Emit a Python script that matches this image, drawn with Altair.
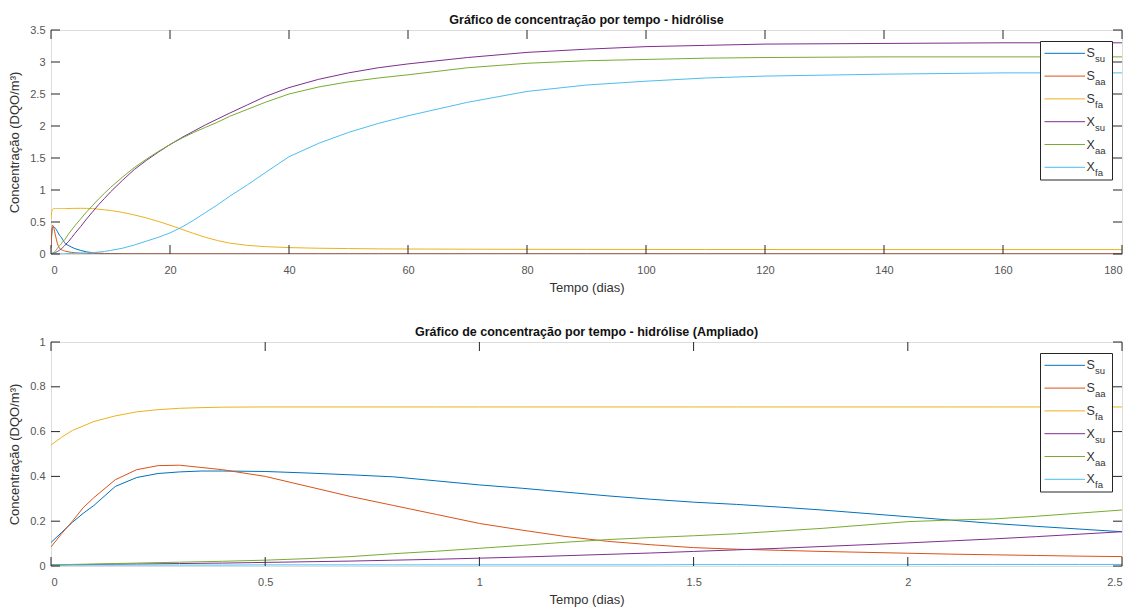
import altair as alt
import pandas as pd

# ---------------- data ----------------
SERIES = ["S_su", "S_aa", "S_fa", "X_su", "X_aa", "X_fa"]
LEGEND_MAIN = ["S", "S", "S", "X", "X", "X"]
LEGEND_SUB = ["su", "aa", "fa", "su", "aa", "fa"]
COLORS = ["#0072BD", "#D95319", "#EDB120", "#7E2F8E", "#77AC30", "#4DBEEE"]

# time in days: fine part (0-2.5) and long part (>2.5)
T_EARLY = [0, 0.025, 0.05, 0.075, 0.1, 0.15, 0.2, 0.25, 0.3, 0.35,
           0.4, 0.5, 0.6, 0.7, 0.8, 0.9, 1.0, 1.1, 1.2, 1.3,
           1.4, 1.5, 1.6, 1.7, 1.8, 1.9, 2.0, 2.1, 2.2, 2.3,
           2.4, 2.5]
T_LATE = [3, 3.5, 4, 5, 6, 7, 8, 9, 10,
          12, 14, 16, 18, 20, 22, 24, 26, 28, 30,
          33, 36, 40, 45, 50, 55, 60,
          70, 80, 90, 100, 110, 120, 140, 160, 180]

S_SU_EARLY = [0.105, 0.15, 0.195, 0.235, 0.27, 0.355, 0.395, 0.413, 0.42, 0.424,
              0.424, 0.422, 0.415, 0.407, 0.398, 0.38, 0.362, 0.347, 0.33, 0.313,
              0.298, 0.285, 0.275, 0.263, 0.25, 0.235, 0.22, 0.205, 0.19, 0.177,
              0.165, 0.153]
S_SU_LATE = [0.13, 0.105, 0.085, 0.055, 0.033, 0.02, 0.012, 0.008, 0.006,
             0.004, 0.003, 0.003, 0.003, 0.002, 0.002, 0.002, 0.002, 0.002, 0.002,
             0.002, 0.002, 0.002, 0.002, 0.002, 0.002, 0.002,
             0.002, 0.002, 0.002, 0.002, 0.002, 0.002, 0.002, 0.002, 0.002]

S_AA_EARLY = [0.085, 0.145, 0.2, 0.26, 0.305, 0.385, 0.43, 0.448, 0.45, 0.44,
              0.43, 0.4, 0.355, 0.31, 0.27, 0.23, 0.19, 0.16, 0.132, 0.11,
              0.095, 0.082, 0.075, 0.07, 0.065, 0.061, 0.057, 0.053, 0.05, 0.047,
              0.044, 0.042]
S_AA_LATE = [0.032, 0.025, 0.02, 0.013, 0.009, 0.006, 0.004, 0.003, 0.003,
             0.002, 0.002, 0.002, 0.002, 0.002, 0.002, 0.002, 0.002, 0.002, 0.002,
             0.002, 0.002, 0.002, 0.002, 0.002, 0.002, 0.002,
             0.002, 0.002, 0.002, 0.002, 0.002, 0.002, 0.002, 0.002, 0.002]

S_FA_EARLY = [0.54, 0.575, 0.605, 0.625, 0.645, 0.67, 0.688, 0.698, 0.704, 0.707,
              0.709, 0.71, 0.71, 0.71, 0.71, 0.71, 0.71, 0.71, 0.71, 0.71,
              0.71, 0.71, 0.71, 0.71, 0.71, 0.71, 0.71, 0.71, 0.71, 0.71,
              0.71, 0.71]
S_FA_LATE = [0.711, 0.712, 0.713, 0.714, 0.713, 0.71, 0.70, 0.69, 0.68,
             0.65, 0.61, 0.565, 0.51, 0.45, 0.385, 0.32, 0.26, 0.21, 0.17,
             0.135, 0.115, 0.10, 0.09, 0.085, 0.08, 0.078,
             0.075, 0.073, 0.072, 0.071, 0.07, 0.07, 0.069, 0.069, 0.069]

X_SU_EARLY = [0.005, 0.005, 0.006, 0.006, 0.007, 0.008, 0.009, 0.01, 0.011, 0.012,
              0.013, 0.016, 0.019, 0.022, 0.026, 0.03, 0.035, 0.04, 0.046, 0.052,
              0.058, 0.065, 0.072, 0.079, 0.087, 0.095, 0.103, 0.112, 0.121, 0.131,
              0.142, 0.153]
X_SU_LATE = [0.2, 0.26, 0.32, 0.43, 0.55, 0.66, 0.77, 0.87, 0.97,
             1.15, 1.32, 1.46, 1.59, 1.71, 1.82, 1.92, 2.02, 2.11, 2.2,
             2.33, 2.46, 2.6, 2.73, 2.83, 2.91, 2.97,
             3.07, 3.15, 3.2, 3.24, 3.26, 3.28, 3.29, 3.3, 3.3]

X_AA_EARLY = [0.005, 0.006, 0.007, 0.008, 0.009, 0.011, 0.013, 0.015, 0.017, 0.019,
              0.021, 0.026, 0.033, 0.042, 0.055, 0.066, 0.079, 0.092, 0.106, 0.118,
              0.127, 0.135, 0.144, 0.156, 0.168, 0.183, 0.198, 0.205, 0.21, 0.222,
              0.236, 0.25]
X_AA_LATE = [0.32, 0.38, 0.44, 0.55, 0.66, 0.76, 0.86, 0.95, 1.04,
             1.2, 1.35, 1.48, 1.6, 1.71, 1.81, 1.9, 1.98, 2.06, 2.15,
             2.26, 2.37, 2.5, 2.61, 2.69, 2.75, 2.8,
             2.91, 2.98, 3.02, 3.04, 3.06, 3.07, 3.08, 3.08, 3.08]

X_FA_EARLY = [0.004, 0.004, 0.004, 0.004, 0.004, 0.004, 0.004, 0.004, 0.004, 0.004,
              0.004, 0.005, 0.005, 0.005, 0.005, 0.005, 0.005, 0.005, 0.005, 0.005,
              0.005, 0.006, 0.006, 0.006, 0.006, 0.006, 0.006, 0.007, 0.007, 0.007,
              0.007, 0.007]
X_FA_LATE = [0.008, 0.009, 0.01, 0.012, 0.015, 0.02, 0.03, 0.04, 0.055,
             0.09, 0.14, 0.2, 0.26, 0.33, 0.42, 0.53, 0.65, 0.77, 0.9,
             1.08, 1.27, 1.52, 1.73, 1.9, 2.04, 2.16,
             2.37, 2.54, 2.64, 2.7, 2.75, 2.78, 2.81, 2.83, 2.83]

X_TICKS_TOP = [0, 20, 40, 60, 80, 100, 120, 140, 160, 180]
Y_TICKS_TOP = [0, 0.5, 1, 1.5, 2, 2.5, 3, 3.5]
X_TICKS_ZOOM = [0, 0.5, 1, 1.5, 2, 2.5]
Y_TICKS_ZOOM = [0, 0.2, 0.4, 0.6, 0.8, 1]

TITLE_TOP = "Gráfico de concentração por tempo - hidrólise"
TITLE_ZOOM = "Gráfico de concentração por tempo - hidrólise (Ampliado)"
X_TITLE = "Tempo (dias)"
Y_TITLE = "Concentração (DQO/m³)"

# ---------------- styling ----------------
FONT = "Liberation Sans"
FRAME = "#262626"
LABEL_COLOR = "#555555"
W, H = 1071, 224
TICK = 9

early_vals = [S_SU_EARLY, S_AA_EARLY, S_FA_EARLY, X_SU_EARLY, X_AA_EARLY, X_FA_EARLY]
late_vals = [S_SU_LATE, S_AA_LATE, S_FA_LATE, X_SU_LATE, X_AA_LATE, X_FA_LATE]

rows = []
for k, (name, e, l) in enumerate(zip(SERIES, early_vals, late_vals)):
    assert len(e) == len(T_EARLY), name
    assert len(l) == len(T_LATE), name
    for t, v in zip(T_EARLY + T_LATE, e + l):
        rows.append({"t": t, "c": v, "serie": name, "k": k})
df = pd.DataFrame(rows)

legend_df = pd.DataFrame({"serie": SERIES, "main": LEGEND_MAIN, "sub": LEGEND_SUB,
                          "idx": list(range(len(SERIES)))})

color_scale = alt.Scale(domain=SERIES, range=COLORS)
LABEL_EXPR = "toString(datum.value)"


def panel(data, xdom, ydom, xticks, yticks, title):
    xs = alt.Scale(domain=xdom, nice=False, zero=False)
    ys = alt.Scale(domain=ydom, nice=False, zero=False)
    x_axis = alt.Axis(
        values=xticks, labelExpr=LABEL_EXPR, title=X_TITLE, grid=False, ticks=False,
        domain=False, labelFontSize=11, labelColor=LABEL_COLOR, labelFont=FONT,
        labelPadding=10, titleFont=FONT, titleFontSize=13, titleFontWeight="normal",
        titleColor="#333333", titlePadding=6)
    y_axis = alt.Axis(
        values=yticks, labelExpr=LABEL_EXPR, title=Y_TITLE, grid=False, ticks=False,
        domain=False, labelFontSize=11, labelColor=LABEL_COLOR, labelFont=FONT,
        labelPadding=6, titleFont=FONT, titleFontSize=13, titleFontWeight="normal",
        titleColor="#333333", titlePadding=8)
    lines = alt.Chart(data).mark_line(strokeWidth=1, clip=True).encode(
        x=alt.X("t:Q", scale=xs, axis=x_axis),
        y=alt.Y("c:Q", scale=ys, axis=y_axis),
        color=alt.Color("serie:N", scale=color_scale, legend=None),
        detail="k:Q",
    )
    xt = pd.DataFrame({"v": xticks})
    yt = pd.DataFrame({"v": yticks})
    tick_x = alt.X("v:Q", scale=xs, axis=x_axis)
    tick_y = alt.Y("v:Q", scale=ys, axis=None)
    bt = alt.Chart(xt).mark_rule(color=FRAME, strokeWidth=1).encode(
        x=tick_x, y=alt.value(H), y2=alt.value(H - TICK))
    tt = alt.Chart(xt).mark_rule(color=FRAME, strokeWidth=1).encode(
        x=tick_x, y=alt.value(0), y2=alt.value(TICK))
    lt = alt.Chart(yt).mark_rule(color=FRAME, strokeWidth=1).encode(
        y=tick_y, x=alt.value(0), x2=alt.value(TICK))
    rt = alt.Chart(yt).mark_rule(color=FRAME, strokeWidth=1).encode(
        y=tick_y, x=alt.value(W), x2=alt.value(W - TICK))

    base = alt.Chart(legend_df).transform_calculate(
        ly="23.3 + 22.8 * datum.idx", ly2="29.3 + 22.8 * datum.idx")
    box = alt.Chart(legend_df.head(1)).mark_rect(
        fill="white", stroke=FRAME, strokeWidth=1).encode(
        x=alt.value(989.5), x2=alt.value(1061.5), y=alt.value(11.5), y2=alt.value(150))
    lrule = base.mark_rule(strokeWidth=1).encode(
        x=alt.value(993.5), x2=alt.value(1034),
        y=alt.Y("ly:Q", scale=None, axis=None),
        color=alt.Color("serie:N", scale=color_scale, legend=None))
    lmain = base.mark_text(align="left", baseline="middle", fontSize=12.5, font=FONT,
                           color="#333333").encode(
        x=alt.value(1035.5), y=alt.Y("ly:Q", scale=None, axis=None), text="main:N")
    lsub = base.mark_text(align="left", baseline="middle", fontSize=9.5, font=FONT,
                          color="#333333").encode(
        x=alt.value(1044), y=alt.Y("ly2:Q", scale=None, axis=None), text="sub:N")

    return alt.layer(lines, bt, tt, lt, rt, box, lrule, lmain, lsub).resolve_scale(
        y="independent").properties(
        width=W, height=H,
        title=alt.TitleParams(title, font=FONT, fontSize=12.5, fontWeight="bold",
                              color="#111111", anchor="middle", frame="group", offset=-2))


top = panel(df, [0, 180], [0, 3.5], X_TICKS_TOP, Y_TICKS_TOP, TITLE_TOP)
zoom = panel(df[df["t"] <= 2.5], [0, 2.5], [0, 1], X_TICKS_ZOOM, Y_TICKS_ZOOM, TITLE_ZOOM)

chart = alt.vconcat(top, zoom, spacing=88, bounds="flush").properties(
    padding={"left": 8, "top": 13, "right": 0, "bottom": 0},
    background="white",
).configure_view(stroke=FRAME, strokeWidth=1).configure(font=FONT)

chart.save("out.html", embed_options={"renderer": "svg", "actions": False})
